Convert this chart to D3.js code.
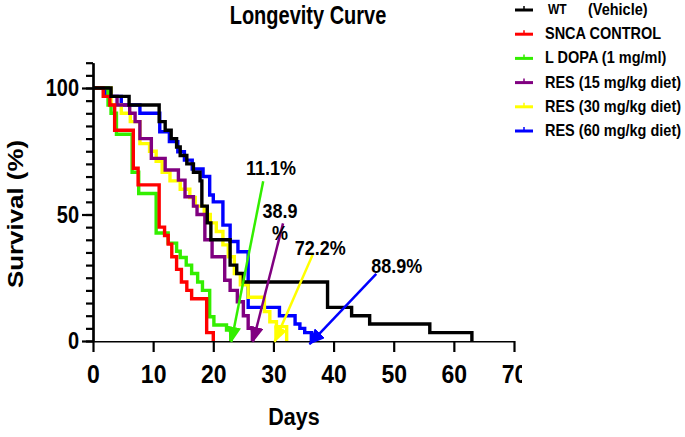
<!DOCTYPE html>
<html>
<head>
<meta charset="UTF-8">
<script src="https://cdn.jsdelivr.net/npm/d3@7"></script>
<style>
body{ margin:0; background:#fff; }
text{ font-family:"Liberation Sans", Arial, Helvetica, sans-serif; font-weight:bold; fill:#000; }
</style>
</head>
<body>
<script>

// survival curves: [day, % surviving]
var wt     = [[0,100],[3,96.7],[6,93.3],[11,86.7],[12,83.3],[13,80],[13.9,76.7],[14.5,73.3],[15.6,70],[16.7,66.7],[17.8,63.3],[18.1,53.3],[19,46.7],[19.6,40],[22.8,30],[23.9,26.7],[25,23.3],[39,13.3],[43,10],[46,6.7],[56,3.3],[63,0]];
var snca   = [[0,100],[1.7,96.7],[2.8,93.3],[3.6,83.3],[6.7,68.3],[7.5,61.7],[11,45],[11.9,41.7],[12.5,38.3],[13.1,33.3],[13.9,28.3],[14.7,23.3],[15.6,20],[16.4,16.7],[18.9,3.3],[20,0]];
var ldopa  = [[0,100],[2.5,93.3],[3,90],[3.9,81.7],[6.5,66.7],[7.6,58.3],[10.5,42.7],[12.5,38.7],[13.9,35.5],[14.5,33],[15.5,30],[16.4,26.7],[17.4,23.3],[18.2,20],[19.4,9.6],[20.1,6.3],[22.2,4.3],[22.9,0]];
var res15  = [[0,100],[2.5,96.7],[4,93.3],[6.1,90],[7,86.7],[7.8,80],[9.7,72.2],[12,67.6],[14.2,63.6],[15.3,57],[16.7,53.3],[17.3,50],[18.6,40],[19.8,33.3],[21.9,24],[22.8,20],[24,15.5],[25,10],[25.8,5],[26.5,0]];
var res30  = [[0,100],[3,93.3],[4.7,90],[6.2,86.7],[7.8,78],[9.4,75],[10.5,71],[11.5,66.7],[12.8,63.3],[14.5,60],[16.1,56.7],[17,53.3],[18.5,50],[19.5,46.7],[20.5,43.3],[21.6,38],[22.5,33.3],[23.5,26.7],[24.5,22.2],[25.8,17.3],[28.5,11.6],[29.4,7.6],[30.5,5.7],[32.2,0]];
var res60  = [[0,100],[2,96.7],[4.7,93.3],[7.8,90],[11.1,82.7],[12.7,78.8],[14.1,74.8],[15.2,71.5],[16.5,68],[18.3,65],[19.4,57.7],[20,55],[21.6,45.8],[22.8,39.3],[24.1,35.3],[25.8,13.3],[31,10],[33.6,6.7],[34.4,5],[35.2,3.3],[36.3,0]];

var names  = ["WT", "SNCA CONTROL", "L DOPA (1 mg/ml)", "RES (15 mg/kg diet)", "RES (30 mg/kg diet)", "RES (60 mg/kg diet)"];
var colors = ["#000000", "#ff0000", "#33ee00", "#800080", "#ffff00", "#0000ff"];
var series = [wt, snca, ldopa, res15, res30, res60];

var xTicks = [0,10,20,30,40,50,60,70];
var yTicks = [0,50,100];

// % annotations with arrows (text position, arrow start, arrow tip in data units)
var annText  = [["11.1%"], ["38.9","%"], ["72.2%"], ["88.9%"]];
var annColor = ["#33ee00", "#800080", "#ffff00", "#0000ff"];
var annPos   = [[29.6,65.6], [31.1,48.5], [37.8,34], [50.5,26.7]];
var annFrom  = [[28.3,63.1], [31.6,46.5], [36.5,34], [47.1,26.5]];
var annTo    = [[23.0,-0.3], [26.6,-0.3], [30.2,-0.3], [36.0,-1.2]];

var W = 685, H = 437;
var S = 1.15;   // text in the reference is stretched a bit vertically

var x = d3.scaleLinear().domain([0,70]).range([93,514]);
var y = d3.scaleLinear().domain([0,110]).range([341,62.7]);

var svg = d3.select("body").append("svg")
    .attr("width", W)
    .attr("height", H);

function label(g, px, py, str, size, anchor, sy){
    return g.append("text")
        .attr("transform", "translate(" + px + "," + py + ") scale(1," + (sy || S) + ")")
        .attr("font-size", size)
        .attr("text-anchor", anchor || "middle")
        .text(str);
}

// title + axis titles
label(svg, 308, 24, "Longevity Curve", 20, "middle", 1.25);
label(svg, 294, 425, "Days", 21.5);
svg.append("text")
    .attr("transform", "translate(23,214) scale(1," + S + ") rotate(-90)")
    .attr("font-size", 22.5)
    .attr("text-anchor", "middle")
    .text("Survival (%)");

// curves, first series on top
var line = d3.line()
    .x(function(d){ return x(d[0]); })
    .y(function(d){ return y(d[1]); })
    .curve(d3.curveStepAfter);

svg.append("g").selectAll("path")
    .data(series.map(function(s,i){ return {pts:s, c:colors[i]}; }).reverse())
    .enter().append("path")
    .attr("d", function(d){ return line(d.pts); })
    .attr("fill", "none")
    .attr("stroke", function(d){ return d.c; })
    .attr("stroke-width", 3.4)
    .attr("stroke-linejoin", "miter");

// axes
svg.append("g")
    .attr("transform", "translate(" + x(0) + ",0)")
    .call(d3.axisLeft(y).tickValues(d3.range(0,111,5)).tickSize(7).tickSizeOuter(0).tickFormat(""));

var gY = svg.append("g")
    .attr("transform", "translate(" + x(0) + ",0)")
    .call(d3.axisLeft(y).tickValues(yTicks).tickSize(11).tickSizeOuter(0));

gY.selectAll(".tick text")
    .attr("x", null).attr("dy", null)
    .attr("transform", "translate(-14,7.5) scale(1," + S + ")")
    .attr("font-size", 20)
    .attr("font-family", null)
    .attr("text-anchor", "end");

// the reference image is cut just through the "70"
svg.append("clipPath").attr("id", "cut")
    .append("rect").attr("x", 0).attr("y", 0).attr("width", 522).attr("height", H);

var gX = svg.append("g")
    .attr("transform", "translate(0," + y(0) + ")")
    .attr("clip-path", "url(#cut)")
    .call(d3.axisBottom(x).tickValues(xTicks).tickSize(11).tickSizeOuter(0));

gX.selectAll(".tick text")
    .attr("y", null).attr("dy", null)
    .attr("transform", "translate(0,42) scale(1," + S + ")")
    .attr("font-size", 23)
    .attr("font-family", null);

svg.selectAll(".domain, .tick line")
    .attr("stroke", "#000")
    .attr("stroke-width", 2.2);

// arrows
var defs = svg.append("defs");
annColor.forEach(function(c,i){
    defs.append("marker")
        .attr("id", "ah" + i)
        .attr("markerUnits", "userSpaceOnUse")
        .attr("markerWidth", 16).attr("markerHeight", 14)
        .attr("refX", 15).attr("refY", 7)
        .attr("orient", "auto")
        .append("path")
        .attr("d", "M0,0 L16,7 L0,14 Z")
        .attr("fill", c);
});

annText.forEach(function(t,i){
    svg.append("line")
        .attr("x1", x(annFrom[i][0])).attr("y1", y(annFrom[i][1]))
        .attr("x2", x(annTo[i][0])).attr("y2", y(annTo[i][1]))
        .attr("stroke", annColor[i])
        .attr("stroke-width", 2.5)
        .attr("marker-end", "url(#ah" + i + ")");
    t.forEach(function(s,j){
        label(svg, x(annPos[i][0]), y(annPos[i][1]) + j*22, s, 18);
    });
});

// legend
var ly = d3.scalePoint().domain(names).range([10,131]);
var lg = svg.append("g");
names.forEach(function(n,i){
    var yy = ly(n);
    lg.append("line")
        .attr("x1", 515).attr("x2", 533).attr("y1", yy).attr("y2", yy)
        .attr("stroke", colors[i]).attr("stroke-width", 3);
    lg.append("line")
        .attr("x1", 524).attr("x2", 524).attr("y1", yy).attr("y2", yy - 4)
        .attr("stroke", colors[i]).attr("stroke-width", 1.5);
    if (i == 0) {
        label(lg, 548, yy + 3.5, n, 12, "start");
        label(lg, 588, yy + 5, "(Vehicle)", 14.5, "start");
    } else {
        label(lg, 545, yy + 5, n, 14.5, "start");
    }
});

</script>
</body>
</html>
